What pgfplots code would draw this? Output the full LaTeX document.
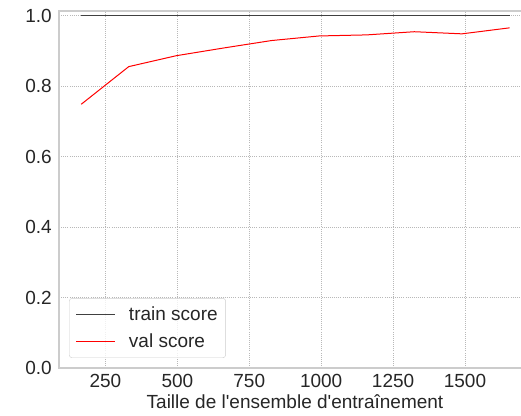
\documentclass[border=0pt]{standalone}
\usepackage{pgfplots}
\pgfplotsset{compat=1.18}
\usetikzlibrary{calc}
\usepackage{fontspec}
\setmainfont{Liberation Sans}[Ligatures=TeXOff]
\definecolor{txt}{HTML}{262626}
\definecolor{gridc}{HTML}{B8B8B8}
\definecolor{spine}{HTML}{CCCCCC}
\begin{document}
\begin{tikzpicture}
\begin{axis}[
  scale only axis, width=472bp, height=357bp,
  xmin=88.5, xmax=1729.5, ymin=0, ymax=1.0128,
  xtick={250,500,750,1000,1250,1500},
  ytick={0,0.2,0.4,0.6,0.8,1.0},
  /pgf/number format/assume math mode=true,
  /pgf/number format/1000 sep={},
  yticklabel style={/pgf/number format/fixed, /pgf/number format/fixed zerofill, /pgf/number format/precision=1},
  tick label style={font=\fontsize{19bp}{22bp}\selectfont, text=txt},
  xticklabel style={inner sep=0pt, anchor=north},
  yticklabel style={inner sep=0pt, anchor=east},
  xticklabel shift=6bp,
  yticklabel shift=7bp,
  major tick length=0pt,
  axis line style={spine, line width=1.2bp},
  grid=major,
  major grid style={gridc, line width=0.8bp, dash pattern=on 0.8bp off 1.3bp},
  legend style={at={(rel axis cs:0,0)}, anchor=south west, xshift=10bp, yshift=10bp,
    draw=spine, rounded corners=3bp, fill=white, fill opacity=0.8, text opacity=1,
    font=\fontsize{19bp}{22bp}\selectfont, text=txt,
    inner xsep=6bp, inner ysep=6.5bp, row sep=8bp, column sep=11bp},
  legend cell align=left,
  legend image code/.code={\draw[#1] (0bp,0bp) -- (39bp,0bp);},
]
\addplot[black!75, line width=1.8bp] coordinates {
(165.5,1.0) (331,1.0) (496.5,1.0) (662,1.0) (827.5,1.0) (993,1.0) (1158.5,1.0) (1324,1.0) (1489.5,1.0) (1655,1.0)};
\addlegendentry{train score}
\addplot[red, line width=1bp] coordinates {
(165.5,0.748) (331,0.855) (496.5,0.886) (662,0.908) (827.5,0.929) (993,0.942) (1158.5,0.945) (1324,0.954) (1489.5,0.948) (1655,0.965)};
\addlegendentry{val score}
\coordinate (ll) at (rel axis cs:0,0);
\coordinate (ur) at (rel axis cs:1,1);
\node[anchor=base east, text=txt, font=\fontsize{19bp}{22bp}\selectfont, inner sep=0pt] at ([xshift=-26bp]axis description cs:0,0.512) {R²};
\end{axis}
\node[anchor=base, text=txt, font=\fontsize{19bp}{22bp}\selectfont, inner sep=0pt] at ([yshift=-40bp]$(ll)!0.5!(ur|-ll)$) {Taille de l'ensemble d'entraînement};
\pgfresetboundingbox
\path[use as bounding box] ([xshift=-59bp,yshift=-48bp]ll) rectangle ([xshift=-10bp,yshift=11bp]ur);
\end{tikzpicture}
\end{document}
